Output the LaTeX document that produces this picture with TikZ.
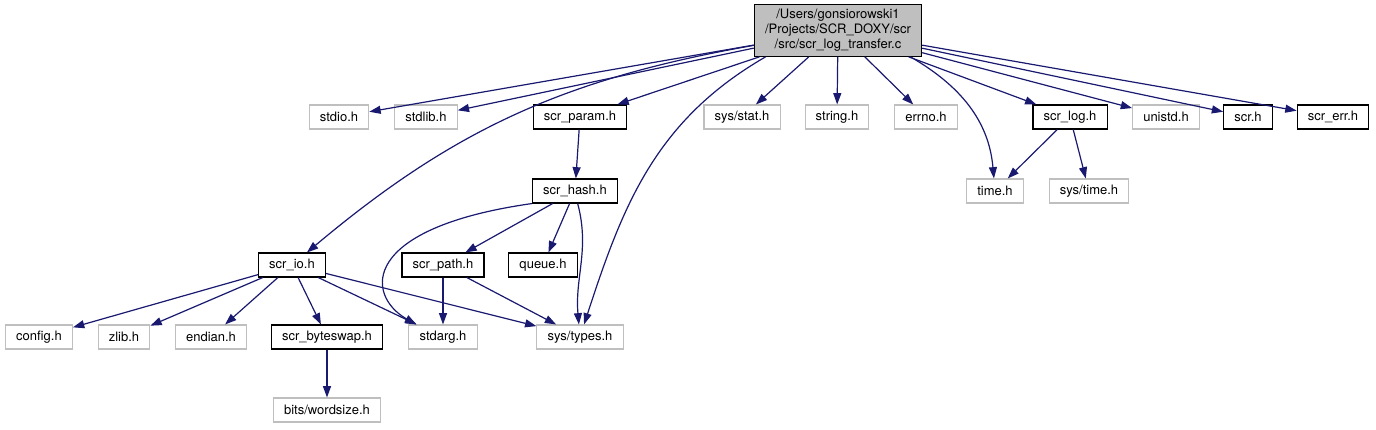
\documentclass[tikz,border=0pt]{standalone}
\usepackage{fontspec}
\setmainfont{TeX Gyre Heros}
\usepackage{xcolor}
\usepackage{tikz}
\usetikzlibrary{arrows.meta}
\definecolor{edgeblue}{HTML}{191970}
\definecolor{sysgray}{HTML}{BFBFBF}
\definecolor{mainfill}{HTML}{BFBFBF}
\tikzset{
  headerfile/.style={
    draw=black,
    fill=white,
    line width=0.8pt,
    font=\fontsize{9.75}{11.25}\selectfont,
    minimum height=18pt,
    inner xsep=8pt,
    inner ysep=0pt
  },
  sysheader/.style={
    headerfile,
    draw=sysgray
  },
  mainfile/.style={
    headerfile,
    fill=mainfill,
    align=center,
    inner ysep=3.5pt
  },
  includearrow/.style={
    -{Triangle[length=8.5pt,width=6pt]},
    line width=0.9pt,
    draw=edgeblue
  }
}

\begin{document}
\begin{tikzpicture}[x=0.75pt,y=0.75pt]
    \useasboundingbox (0,0) rectangle (1376,429);

    \node[mainfile] (main) at (838,398.5) {/Users/gonsiorowski1\\/Projects/SCR\_DOXY/scr\\/src/scr\_log\_transfer.c};

    \node[sysheader] (stdio) at (339,312) {stdio.h};
    \node[sysheader] (stdlib) at (426,312) {stdlib.h};
    \node[headerfile] (scrparam) at (580,312) {scr\_param.h};
    \node[sysheader] (sysstat) at (742,312) {sys/stat.h};
    \node[sysheader] (string) at (837,312) {string.h};
    \node[sysheader] (errno) at (926,312) {errno.h};
    \node[headerfile] (scrlog) at (1070,312) {scr\_log.h};
    \node[sysheader] (unistd) at (1166,312) {unistd.h};
    \node[headerfile] (scr) at (1248,312) {scr.h};
    \node[headerfile] (screrr) at (1333,312) {scr\_err.h};

    \node[headerfile] (scrhash) at (575,238) {scr\_hash.h};
    \node[sysheader] (time) at (995,238) {time.h};
    \node[sysheader] (systime) at (1089,238) {sys/time.h};

    \node[headerfile] (scrio) at (292,164) {scr\_io.h};
    \node[headerfile] (scrpath) at (443,164) {scr\_path.h};
    \node[headerfile] (queue) at (543,164) {queue.h};

    \node[sysheader] (config) at (39,92) {config.h};
    \node[sysheader] (zlib) at (124,92) {zlib.h};
    \node[sysheader] (endian) at (211,92) {endian.h};
    \node[headerfile] (byteswap) at (327,92) {scr\_byteswap.h};
    \node[sysheader] (stdarg) at (443,92) {stdarg.h};
    \node[sysheader] (systypes) at (580,92) {sys/types.h};

    \node[sysheader] (wordsize) at (327,19) {bits/wordsize.h};

    \draw[includearrow] (main) -- (stdio);
    \draw[includearrow] (main) -- (stdlib);
    \draw[includearrow] (main.190) to[out=190,in=40] (scrio);
    \draw[includearrow] (main) -- (scrparam);
    \draw[includearrow] (main.200) to[out=210,in=72] (systypes);
    \draw[includearrow] (main) -- (sysstat);
    \draw[includearrow] (main) -- (string);
    \draw[includearrow] (main) -- (errno);
    \draw[includearrow] (main.-20) to[out=-30,in=95] (time);
    \draw[includearrow] (main) -- (scrlog);
    \draw[includearrow] (main) -- (unistd);
    \draw[includearrow] (main) -- (scr);
    \draw[includearrow] (main) -- (screrr);

    \draw[includearrow] (scrparam) -- (scrhash);
    \draw[includearrow] (scrhash.south west) .. controls (360,201) and (365,134) .. (stdarg.155);
    \draw[includearrow] (scrhash) -- (scrpath);
    \draw[includearrow] (scrhash) -- (queue);
    \draw[includearrow] (scrhash.-78) to[out=-75,in=95] (systypes);

    \draw[includearrow] (scrpath) -- (stdarg);
    \draw[includearrow] (scrpath) -- (systypes);

    \draw[includearrow] (scrio) -- (config);
    \draw[includearrow] (scrio) -- (zlib);
    \draw[includearrow] (scrio) -- (endian);
    \draw[includearrow] (scrio) -- (byteswap);
    \draw[includearrow] (scrio) -- (stdarg);
    \draw[includearrow] (scrio) -- (systypes);

    \draw[includearrow] (byteswap) -- (wordsize);

    \draw[includearrow] (scrlog) -- (time);
    \draw[includearrow] (scrlog) -- (systime);
\end{tikzpicture}
\end{document}
